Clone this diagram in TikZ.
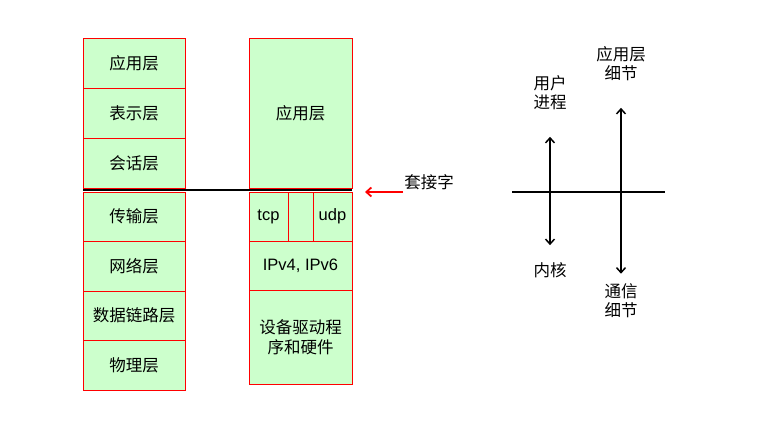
\documentclass[tikz,border=0pt]{standalone}
\usepackage{fontspec}
\setmainfont{Liberation Sans}
\newfontfamily\cjk{Noto Sans CJK SC}
\usepackage{tikz}
\usetikzlibrary{arrows.meta,positioning}

\begin{document}
\begin{tikzpicture}[x=1pt,y=-1pt,
        layer/.style={draw=red,fill=green!20,inner sep=0pt,outer sep=0pt,
                      minimum width=102pt,minimum height=50pt,align=center,
                      font=\cjk\fontsize{16.5}{20}\selectfont},
        latin/.style={font=\fontsize{16.5}{20}\selectfont},
        lbl/.style={inner sep=0pt,align=center,font=\cjk\fontsize{16.5}{19}\selectfont},
        dbl/.style={{Straight Barb[length=5pt,width=9pt]}-{Straight Barb[length=5pt,width=9pt]},line width=1.5pt}]
        \useasboundingbox (0,0) rectangle (769,427);
        % OSI layers
        \node[layer,anchor=north west] (app) at (83,38) {应用层};
        \node[layer] (pres) [below=0pt of app] {表示层};
        \node[layer] (sess) [below=0pt of pres] {会话层};
        \node[layer,minimum height=49.5pt] (trans) [below=4pt of sess] {传输层};
        \node[layer,minimum height=49.5pt] (net) [below=0pt of trans] {网络层};
        \node[layer,minimum height=49.5pt] (link) [below=0pt of net] {数据链路层};
        \node[layer,minimum height=49.5pt] (phys) [below=0pt of link] {物理层};
        % TCP/IP
        \node[layer,anchor=north west,minimum width=103pt,minimum height=150pt] (tapp) at (249,38) {应用层};
        \node[layer,latin,anchor=north west,minimum width=39pt,minimum height=49pt] (tcp) at (249,192) {tcp};
        \node[layer,minimum width=25pt,minimum height=49pt] (mid) [right=0pt of tcp] {};
        \node[layer,latin,minimum width=39pt,minimum height=49pt] (udp) [right=0pt of mid] {udp};
        \node[layer,latin,anchor=north west,minimum width=103pt,minimum height=49pt] (ip) at (tcp.south west) {IPv4, IPv6};
        \node[layer,anchor=north west,minimum width=103pt,minimum height=94pt] (dev) at (ip.south west) {设备驱动程\\序和硬件};
        % socket
        \coordinate (sockL) at (83,190);
        \coordinate (sockR) at (352,190);
        \draw[line width=1.5pt] (sockL) -- (sockR);
        \node[lbl] (sock) at (429,182) {套接字};
        \coordinate (arrS) at (403,192);
        \coordinate (arrT) at (365,192);
        \draw[-{Straight Barb[length=5pt,width=9pt]},red,line width=1.8pt] (arrS) -- (arrT);
        % user / kernel
        \coordinate (axL) at (512,192);
        \coordinate (axR) at (665,192);
        \draw[line width=1.5pt] (axL) -- (axR);
        \node[lbl] (user) at (550,92.5) {用户\\进程};
        \node[lbl] (kern) at (550,270) {内核};
        \node[lbl] (appd) at (621,63.5) {应用层\\细节};
        \node[lbl] (comm) at (621,301) {通信\\细节};
        \draw[dbl,shorten <=27pt,shorten >=17pt] (user) -- (kern);
        \draw[dbl,shorten <=27pt,shorten >=10pt] (appd) -- (comm);
    \end{tikzpicture}
\end{document}
